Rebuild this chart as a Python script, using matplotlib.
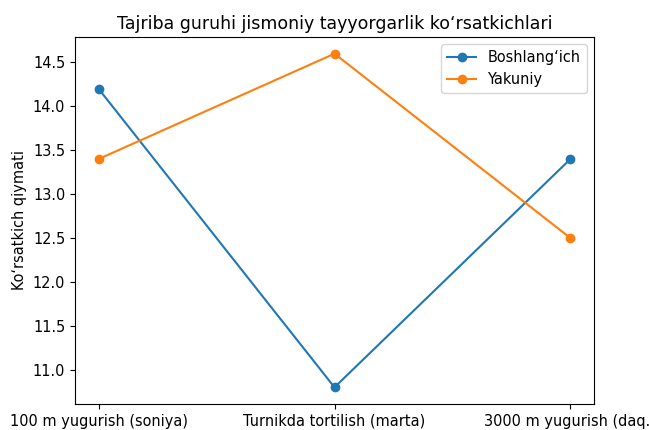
import matplotlib
matplotlib.use("Agg")
import matplotlib.pyplot as plt

plt.rcParams["font.size"] = 10.45

categories = ["100 m yugurish (soniya)", "Turnikda tortilish (marta)", "3000 m yugurish (daq.)"]
boshlangich = [14.2, 10.8, 13.4]
yakuniy = [13.4, 14.6, 12.5]

fig = plt.figure(figsize=(6.49, 4.30), dpi=100)
ax = fig.add_axes([75/649, 26/430, 519/649, 367/430])
ax.plot(categories, boshlangich, marker="o", label="Boshlangʻich")
ax.plot(categories, yakuniy, marker="o", label="Yakuniy")
ax.set_title("Tajriba guruhi jismoniy tayyorgarlik koʻrsatkichlari")
ax.set_ylabel("Koʻrsatkich qiymati")
ax.legend(loc="upper right")
fig.savefig("out.png", dpi=100)
